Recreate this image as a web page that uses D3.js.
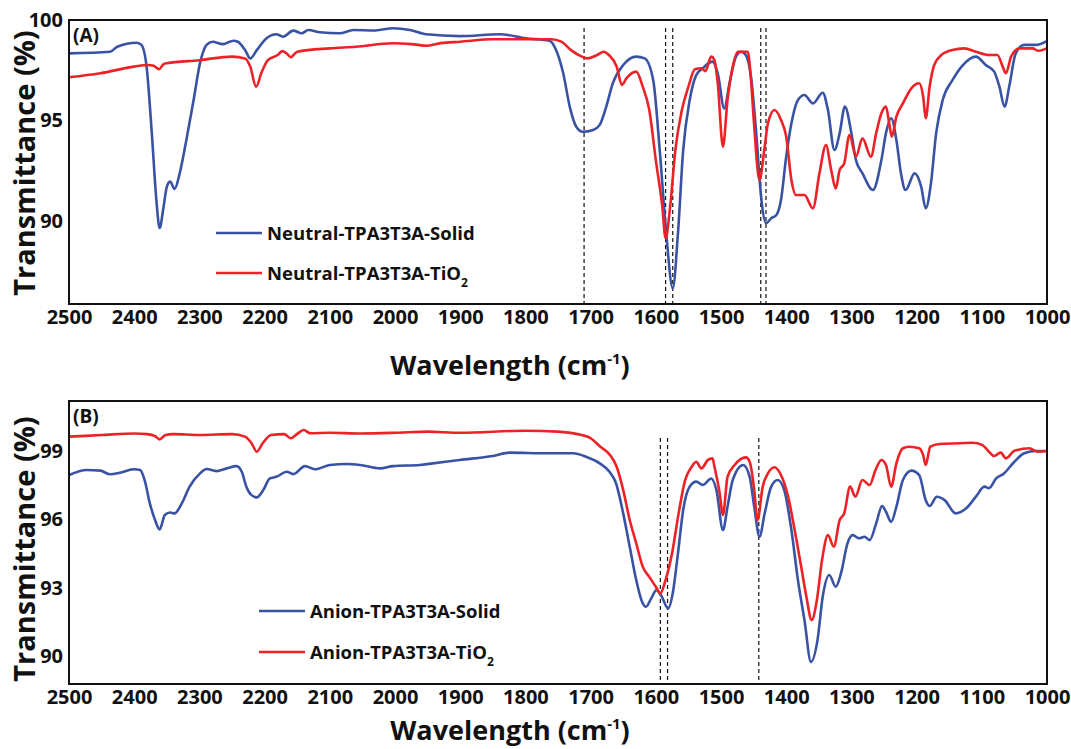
<!DOCTYPE html>
<html>
<head>
<meta charset="utf-8">
<script src="https://cdn.jsdelivr.net/npm/d3@7"></script>
<style>
  html, body { margin: 0; padding: 0; background: #fff; }
  svg { display: block; font-family: "Open Sans", sans-serif; font-weight: 700; }
</style>
</head>
<body>
<svg id="chart" width="1071" height="749"></svg>
<script>
// wavenumber (cm-1), transmittance (%)
var neutralSolid = [
  [2500,98.34],[2437,98.42],[2426,98.67],[2396,98.87],[2389,98.76],[2381,97.68],[2373,94.37],[2366,91.04],
  [2361,89.65],[2355,90.7],[2350,91.7],[2345,91.96],[2338,91.6],[2330,92.4],[2320,94.03],[2309,96.0],
  [2299,97.86],[2289,98.76],[2280,98.92],[2264,98.8],[2248,98.97],[2241,98.92],[2230,98.51],[2222,98.09],
  [2212,98.5],[2197,99.09],[2182,99.29],[2172,99.17],[2156,99.47],[2143,99.34],[2133,99.5],[2115,99.39],
  [2085,99.34],[2064,99.5],[2030,99.48],[2003,99.59],[1977,99.5],[1952,99.29],[1901,99.2],[1839,99.29],
  [1799,99.09],[1763,98.97],[1753,98.51],[1742,97.35],[1732,95.69],[1722,94.69],[1712,94.44],[1696,94.53],
  [1686,94.78],[1676,95.69],[1666,96.85],[1650,97.76],[1630,98.18],[1617,98.09],[1604,97.01],[1594,93.53],
  [1584,89.39],[1574,86.65],[1566,89.39],[1558,93.53],[1548,96.02],[1538,97.26],[1528,97.6],[1513,97.93],
  [1505,97.35],[1495,95.6],[1487,96.85],[1477,98.18],[1469,98.42],[1462,98.26],[1454,97.18],[1446,94.37],
  [1438,91.04],[1431,89.89],[1423,90.14],[1415,90.3],[1408,91.04],[1400,93.2],[1392,94.86],[1382,96.02],
  [1372,96.27],[1359,95.85],[1344,96.38],[1336,95.52],[1326,93.53],[1318,94.37],[1310,95.69],[1300,94.37],
  [1293,93.03],[1283,92.37],[1267,91.54],[1254,93.03],[1247,94.37],[1239,95.11],[1231,94.03],[1224,92.37],
  [1217,91.54],[1203,92.37],[1193,91.71],[1186,90.63],[1178,91.87],[1170,94.37],[1160,96.02],[1145,97.01],
  [1129,97.76],[1109,98.18],[1094,97.76],[1081,97.43],[1073,96.68],[1065,95.69],[1058,96.68],[1048,98.34],
  [1035,98.76],[1017,98.76],[1000,98.95]
];
var neutralTiO2 = [
  [2500,97.15],[2452,97.35],[2400,97.68],[2380,97.76],[2370,97.72],[2362,97.55],[2355,97.8],[2350,97.85],
  [2300,98.0],[2250,98.18],[2230,98.09],[2222,97.68],[2213,96.68],[2205,97.36],[2195,98.0],[2180,98.26],
  [2173,98.45],[2165,98.3],[2160,98.15],[2150,98.42],[2100,98.59],[2060,98.67],[2003,98.84],[1975,98.8],
  [1950,98.72],[1930,98.85],[1900,98.92],[1850,99.04],[1800,99.04],[1760,99.04],[1745,98.92],[1730,98.5],
  [1715,98.2],[1705,98.09],[1690,98.26],[1680,98.42],[1672,98.26],[1660,97.68],[1652,96.77],[1645,97.1],
  [1630,97.43],[1620,96.68],[1610,95.52],[1600,93.03],[1590,90.71],[1585,89.14],[1578,90.71],[1570,93.53],
  [1560,95.52],[1550,96.68],[1540,97.55],[1530,97.6],[1524,97.45],[1515,98.18],[1510,98.0],[1505,96.85],
  [1497,93.7],[1490,96.02],[1482,97.68],[1474,98.42],[1459,98.42],[1454,97.01],[1449,94.69],[1441,92.04],
  [1433,93.7],[1428,94.86],[1418,95.52],[1408,95.03],[1400,94.2],[1392,92.04],[1385,91.29],[1372,91.29],
  [1359,90.63],[1349,92.37],[1339,93.78],[1331,92.54],[1324,91.62],[1318,92.54],[1311,92.87],[1303,94.28],
  [1293,93.2],[1283,94.11],[1270,93.2],[1262,94.37],[1254,95.36],[1247,95.69],[1242,94.86],[1238,94.2],
  [1231,95.19],[1221,95.85],[1208,96.6],[1196,96.85],[1190,96.19],[1186,95.11],[1180,96.68],[1173,97.76],
  [1162,98.26],[1145,98.51],[1127,98.59],[1109,98.42],[1089,98.26],[1076,98.26],[1068,97.68],[1063,97.35],
  [1055,98.18],[1042,98.59],[1022,98.59],[1014,98.47],[1000,98.59]
];
var anionSolid = [
  [2500,97.95],[2473,98.17],[2452,98.14],[2437,97.98],[2422,98.05],[2401,98.2],[2391,98.17],[2384,97.73],
  [2376,96.71],[2368,95.98],[2361,95.57],[2353,96.2],[2345,96.31],[2338,96.27],[2327,96.71],[2315,97.44],
  [2299,98.02],[2289,98.21],[2274,98.12],[2258,98.24],[2243,98.34],[2235,98.09],[2228,97.44],[2220,97.07],
  [2212,96.97],[2202,97.29],[2192,97.8],[2182,97.87],[2166,98.09],[2156,97.99],[2138,98.34],[2123,98.2],
  [2100,98.39],[2074,98.43],[2054,98.39],[2023,98.24],[2003,98.34],[1962,98.39],[1942,98.46],[1901,98.61],
  [1850,98.78],[1824,98.93],[1768,98.9],[1727,98.9],[1707,98.75],[1686,98.46],[1671,98.09],[1661,97.59],
  [1650,96.27],[1640,94.81],[1630,93.35],[1622,92.47],[1615,92.18],[1607,92.55],[1599,92.91],[1592,92.69],
  [1581,92.11],[1574,92.77],[1566,94.52],[1558,96.42],[1548,97.44],[1538,97.66],[1528,97.51],[1515,97.8],
  [1507,97.29],[1497,95.54],[1490,96.56],[1482,97.73],[1466,98.39],[1456,97.87],[1449,96.56],[1441,95.25],
  [1433,96.27],[1423,97.44],[1413,97.73],[1403,97.29],[1392,95.54],[1382,93.35],[1372,91.6],[1362,89.77],
  [1352,90.72],[1344,92.62],[1334,93.57],[1324,93.06],[1316,93.64],[1306,94.96],[1298,95.32],[1288,95.18],
  [1280,95.25],[1272,95.1],[1262,95.83],[1253,96.59],[1247,96.34],[1239,95.9],[1231,96.56],[1221,97.73],
  [1208,98.14],[1196,97.95],[1186,96.85],[1180,96.59],[1169,97.0],[1157,96.85],[1140,96.27],[1124,96.49],
  [1109,97.0],[1096,97.44],[1089,97.37],[1078,97.8],[1066,98.02],[1050,98.53],[1035,98.9],[1017,99.0],
  [1000,99.0]
];
var anionTiO2 = [
  [2500,99.63],[2450,99.7],[2400,99.77],[2380,99.74],[2368,99.65],[2361,99.51],[2352,99.7],[2340,99.74],
  [2300,99.7],[2250,99.74],[2230,99.63],[2220,99.34],[2212,98.97],[2203,99.34],[2190,99.7],[2170,99.74],
  [2160,99.56],[2150,99.75],[2140,99.92],[2130,99.78],[2100,99.8],[2054,99.77],[2000,99.8],[1950,99.85],
  [1900,99.8],[1800,99.89],[1750,99.85],[1720,99.74],[1700,99.56],[1685,99.19],[1670,98.82],[1660,98.31],
  [1650,97.29],[1640,95.98],[1630,94.96],[1620,93.93],[1610,93.49],[1600,93.06],[1593,92.77],[1585,93.35],
  [1575,94.53],[1565,96.27],[1555,97.73],[1545,98.31],[1538,98.53],[1530,98.24],[1520,98.61],[1513,98.68],
  [1510,98.31],[1502,97.15],[1497,96.2],[1490,97.87],[1479,98.39],[1462,98.72],[1456,98.53],[1449,97.29],
  [1444,95.98],[1436,97.44],[1428,98.02],[1418,98.29],[1408,97.95],[1397,97.0],[1387,95.54],[1377,93.93],
  [1369,92.62],[1361,91.6],[1353,92.47],[1345,94.23],[1336,95.32],[1327,94.81],[1318,95.98],[1311,96.27],
  [1302,97.44],[1294,97.0],[1283,97.73],[1272,97.51],[1263,98.17],[1254,98.61],[1247,98.39],[1239,97.44],
  [1231,98.46],[1221,99.12],[1211,99.19],[1196,99.12],[1190,98.82],[1186,98.39],[1179,99.19],[1165,99.31],
  [1134,99.34],[1114,99.36],[1099,99.26],[1089,98.97],[1081,98.78],[1071,98.93],[1063,98.68],[1050,99.01],
  [1027,99.12],[1014,98.97],[1000,99.0]
];

var xTicks = [2500, 2400, 2300, 2200, 2100, 2000, 1900, 1800, 1700, 1600, 1500, 1400, 1300, 1200, 1100, 1000];
var yTicksA = [90, 95, 100];
var yTicksB = [90, 93, 96, 99];
var neutralMarks = [1710, 1585, 1574, 1439, 1431];
var anionMarks = [1593, 1582, 1442];
var neutralLabels = ["Neutral-TPA3T3A-Solid", "Neutral-TPA3T3A-TiO"];
var anionLabels = ["Anion-TPA3T3A-Solid", "Anion-TPA3T3A-TiO"];

var blue = "#3953a4", red = "#ec2227";
var svg = d3.select("#chart");
var left = 69, right = 1047;

function drawPanel(p) {
    var x = d3.scaleLinear().domain([2500, 1000]).range([left, right]),
        y = d3.scaleLinear().domain(p.yDomain).range([p.bottom, p.top]);

    var g = svg.append("g");

    var line = d3.line()
        .x(function(d) { return x(d[0]); })
        .y(function(d) { return y(d[1]); })
        .curve(d3.curveMonotoneX);

    // dashed guide lines
    g.selectAll(".mark")
        .data(p.marks)
        .enter().append("line")
        .attr("x1", function(d) { return x(d); })
        .attr("x2", function(d) { return x(d); })
        .attr("y1", p.top + p.markTop)
        .attr("y2", p.bottom)
        .attr("stroke", "#111")
        .attr("stroke-width", 1.2)
        .attr("stroke-dasharray", "4,3");

    [[p.series[0], blue], [p.series[1], red]].forEach(function(s) {
        g.append("path")
            .datum(s[0])
            .attr("fill", "none")
            .attr("stroke", s[1])
            .attr("stroke-width", 2.6)
            .attr("stroke-linejoin", "round")
            .attr("d", line);
    });

    g.append("g")
        .attr("transform", "translate(0," + p.bottom + ")")
        .call(d3.axisBottom(x).tickValues(xTicks).tickSize(0).tickPadding(6).tickFormat(d3.format("d")))
        .call(function(a) { a.select(".domain").remove(); })
        .selectAll("text")
        .style("font-family", "'Open Sans', sans-serif")
        .style("font-weight", 700)
        .style("font-size", "20px")
        .attr("fill", "#111");

    g.append("g")
        .attr("transform", "translate(" + left + ",0)")
        .call(d3.axisLeft(y).tickValues(p.yTicks).tickSize(0).tickPadding(6))
        .call(function(a) { a.select(".domain").remove(); })
        .selectAll("text")
        .style("font-family", "'Open Sans', sans-serif")
        .style("font-weight", 700)
        .style("font-size", "20px")
        .attr("fill", "#111");

    // frame
    g.append("rect")
        .attr("x", left).attr("y", p.top)
        .attr("width", right - left).attr("height", p.bottom - p.top)
        .attr("fill", "none").attr("stroke", "#111").attr("stroke-width", 2);

    g.append("text")
        .attr("x", 73).attr("y", p.top + 22)
        .style("font-size", "19px").attr("fill", "#111")
        .text(p.tag);

    // legend
    p.labels.forEach(function(lab, i) {
        var ly = p.legendY[i];
        g.append("line")
            .attr("x1", p.legendX).attr("x2", p.legendX + 46)
            .attr("y1", ly).attr("y2", ly)
            .attr("stroke", i ? red : blue).attr("stroke-width", 2.6);
        var t = g.append("text")
            .attr("x", p.legendX + 51).attr("y", ly + 6.5)
            .style("font-size", "18.5px").attr("fill", "#111");
        t.append("tspan").text(lab);
        if (i) t.append("tspan").attr("dy", 7).style("font-size", "12px").text("2");
    });

    // axis titles
    var xt = g.append("text")
        .attr("x", 510).attr("y", p.xTitleY)
        .attr("text-anchor", "middle")
        .style("font-size", "27px").attr("fill", "#111");
    xt.append("tspan").text("Wavelength (cm");
    xt.append("tspan").attr("dy", -11).style("font-size", "15px").text("-1");
    xt.append("tspan").attr("dy", 11).text(")");

    g.append("text")
        .attr("transform", "translate(35," + p.yTitleY + ") rotate(-90)")
        .attr("text-anchor", "middle")
        .style("font-size", "29px").attr("fill", "#111")
        .text("Transmittance (%)");
}

drawPanel({
    top: 20, bottom: 304, yDomain: [85.87, 100], yTicks: yTicksA,
    series: [neutralSolid, neutralTiO2], marks: neutralMarks, markTop: 8,
    tag: "(A)", labels: neutralLabels, legendX: 216, legendY: [233, 273],
    xTitleY: 375, yTitleY: 163
});
drawPanel({
    top: 401, bottom: 684, yDomain: [88.8, 101.19], yTicks: yTicksB,
    series: [anionSolid, anionTiO2], marks: anionMarks, markTop: 37,
    tag: "(B)", labels: anionLabels, legendX: 259, legendY: [611, 652],
    xTitleY: 740, yTitleY: 549
});
</script>
</body>
</html>
